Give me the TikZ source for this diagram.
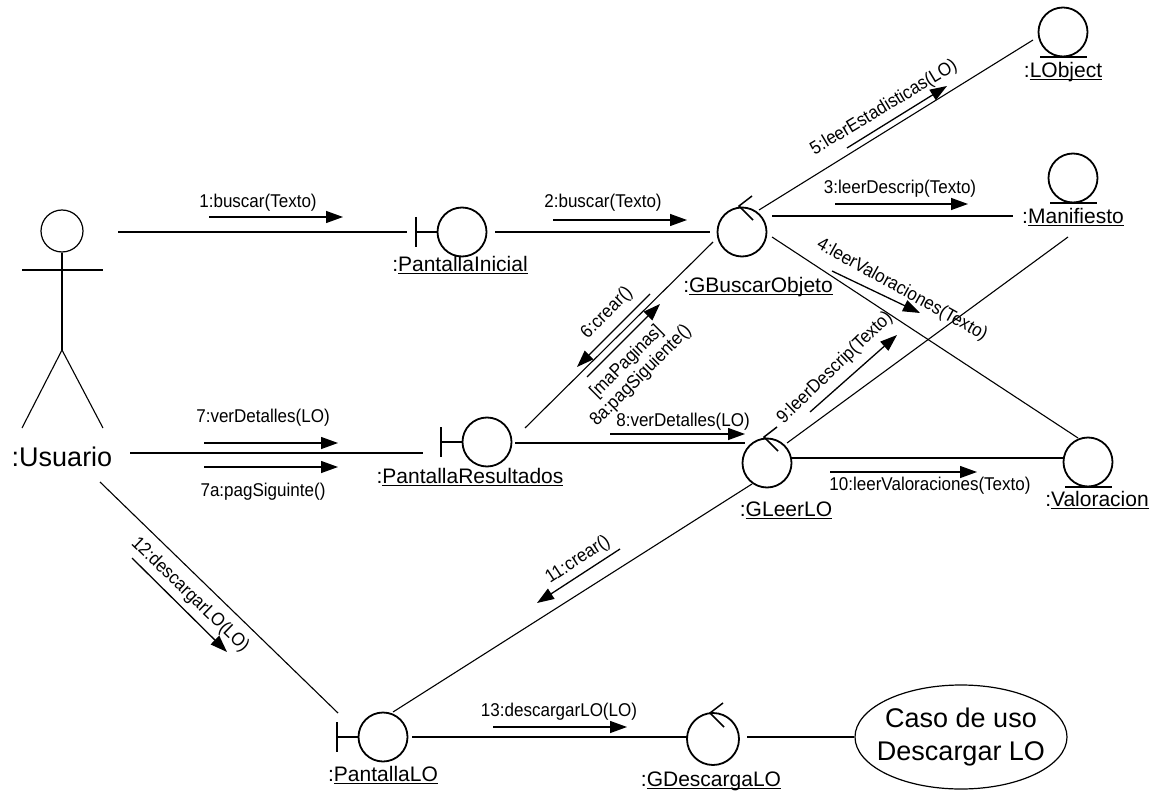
\documentclass[tikz,border=0pt]{standalone}
\usepackage{fontspec}
\setmainfont{Liberation Sans}
\newfontfamily\lblfont{Liberation Sans}[FakeStretch=0.92]
\usetikzlibrary{arrows.meta,calc,shapes.geometric}

% object name: colon followed by the underlined name (underline at a fixed depth)
\newcommand\objlabel[1]{:\underline{\raisebox{0pt}[\height][0pt]{#1}}}

\tikzset{
  lnk/.style={line width=1.1pt},
  symline/.style={line width=1.8pt},
  msg/.style={line width=1.3pt,-{Triangle[length=17pt,width=12pt]}},
  lbl/.style={font=\lblfont\fontsize{18.5}{20}\selectfont, inner sep=0pt},
  obj/.style={font=\fontsize{21}{24}\selectfont, inner sep=0pt},
  big/.style={font=\fontsize{27}{33}\selectfont, inner sep=0pt},
  sym/.style={circle, draw, line width=1.8pt, inner sep=0pt, minimum size=49pt},
}

\begin{document}
\begin{tikzpicture}[x=1pt,y=-1pt]
\useasboundingbox (0,0) rectangle (1158,791);

% ---- actor ----
\node[draw, circle, line width=1.2pt, minimum size=42pt, inner sep=0pt] (head) at (62,231) {};
\coordinate (hip) at (62,350);
\draw[lnk] (head.south) -- (hip);
\draw[lnk] (22,270) -- (103,270);
\draw[lnk] (hip) -- (22,428);
\draw[lnk] (hip) -- (103,428);
\node[big] (usr) at (62,457) {:Usuario};
\coordinate (uA) at (118,232);
\coordinate (uB) at (130,453);
\coordinate (uC) at (100,482);

% ---- objects ----
\node[sym] (pi) at (462,232) {};
\node[obj] (piL) at (460,265) {\objlabel{PantallaInicial}};
\node[sym] (gbo) at (742,232) {};
\node[obj] (gboL) at (758,286) {\objlabel{GBuscarObjeto}};
\node[sym] (lo) at (1063,32) {};
\node[obj] (loL) at (1063,71) {\objlabel{LObject}};
\node[sym] (man) at (1073,178) {};
\node[obj] (manL) at (1073,217) {\objlabel{Manifiesto}};
\node[sym] (val) at (1088,462) {};
\node[obj] (valL) at (1097,500) {\objlabel{Valoracion}};
\node[sym] (pr) at (487,442) {};
\node[obj] (prL) at (470,477) {\objlabel{PantallaResultados}};
\node[sym] (gl) at (767,463) {};
\node[obj] (glL) at (786,510) {\objlabel{GLeerLO}};
\node[sym] (plo) at (383,737) {};
\node[obj] (ploL) at (383,775) {\objlabel{PantallaLO}};
\node[sym, minimum size=52pt] (gd) at (713,739) {};
\node[obj] (gdL) at (711,780) {\objlabel{GDescargaLO}};
\node[draw, ellipse, line width=1.2pt, minimum width=212pt, minimum height=104pt,
      inner sep=0pt] (uc) at (961,737) {};
\node[big, align=center] (uct) at (uc.center) {Caso de uso\\Descargar LO};

% boundary bars
\foreach \n in {pi,pr,plo} {
  \draw[symline] ($(\n.center)+(-46,-15)$) -- ++(0,30);
  \draw[symline] ($(\n.center)+(-46,0)$) -- (\n.west);
}
% control arrows
\foreach \n in {gbo,gl,gd} {
  \draw[line width=1.5pt] ($(\n.center)+(10,-36)$) -- ($(\n.center)+(-3,-26)$) -- ($(\n.center)+(11,-12)$);
}
% entity bases
\foreach \n in {lo,man,val} {
  \draw[symline] ($(\n.center)+(-23,25)$) -- ++(47,0);
}

% ---- links ----
\draw[lnk] (uA) -- ($(pi.center)+(-55,0)$);
\draw[lnk] ($(pi.center)+(33,0)$) -- ($(gbo.center)+(-32,0)$);
\draw[lnk] ($(gbo.center)+(30,-16)$) -- ($(man.center)+(-60,38)$);
\draw[lnk] ($(gbo.center)+(17,-22)$) -- ($(lo.center)+(-30,8)$);
\draw[lnk] ($(gbo.center)+(30,5)$) -- ($(val.center)+(-10,-24)$);
\draw[lnk] ($(pr.center)+(38,-14)$) -- ($(gbo.center)+(-29,10)$);
\draw[lnk] ($(pr.center)+(28,1)$) -- ($(gl.center)+(-22,-20)$);
\draw[lnk] ($(man.center)+(-5,59)$) -- ($(gl.center)+(20,-20)$);
\draw[lnk] ($(gl.center)+(24,-5)$) -- ($(val.center)+(-25,-4)$);
\draw[line width=2.5pt] (uB) -- ($(pr.center)+(-64,11)$);
\draw[lnk] (uC) -- ($(plo.center)+(-45,-24)$);
\draw[lnk] ($(plo.center)+(10,-25)$) -- ($(gl.center)+(-15,21)$);
\draw[lnk] ($(plo.center)+(29,0)$) -- ($(gd.center)+(-26,-2)$);
\draw[lnk] ($(gd.center)+(34,-2)$) -- (uc.west);

% ---- messages ----
\node[lbl] (t1) at (258,203) {1:buscar(Texto)};
\draw[msg] (209,217) -- (343,217);
\node[lbl] (t2) at (603,203) {2:buscar(Texto)};
\draw[msg] (553,220) -- (687,220);
\node[lbl] (t3) at (900,189) {3:leerDescrip(Texto)};
\draw[msg] (835,204) -- (968,204);
\node[lbl, rotate=-29] (t4) at (902,290) {4:leerValoraciones(Texto)};
\draw[msg] (832,271) -- (920,313);
\node[lbl, rotate=31] (t5) at (884,108) {5:leerEstadisticas(LO)};
\draw[msg] (847,148) -- (947,86);
\node[lbl, rotate=45] (t6) at (607,313) {6:crear()};
\draw[msg] (650,294) -- (577,367);
\node[lbl, rotate=45, align=center] (t8a) at (634,369) {[maPaginas]\\8a:pagSiguiente()};
\draw[msg] (587,377) -- (660,304);
\node[lbl] (t7) at (263,418) {7:verDetalles(LO)};
\draw[msg] (204,443) -- (338,443);
\node[lbl] (t7a) at (263,492) {7a:pagSiguinte()};
\draw[msg] (204,467) -- (338,467);
\node[lbl] (t8) at (683,422) {8:verDetalles(LO)};
\draw[msg] (610,434) -- (745,434);
\node[lbl, rotate=44] (t9) at (835,368) {9:leerDescrip(Texto)};
\draw[msg] (810,412) -- (897,335);
\node[lbl] (t10) at (930,486) {10:leerValoraciones(Texto)};
\draw[msg] (830,472) -- (977,472);
\node[lbl, rotate=33] (t11) at (578,560) {11:crear()};
\draw[msg] (620,549) -- (537,603);
\node[lbl, rotate=-44] (t12) at (190,595) {12:descargarLO(LO)};
\draw[msg] (132,558) -- (227,652);
\node[lbl] (t13) at (559,712) {13:descargarLO(LO)};
\draw[msg] (493,727) -- (627,727);
\end{tikzpicture}
\end{document}
